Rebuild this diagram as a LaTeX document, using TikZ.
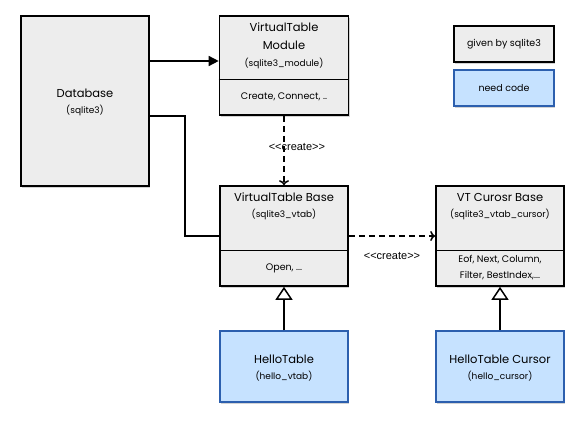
\documentclass[tikz,border=0pt]{standalone}
\usepackage{fontspec}
\setmainfont{Poppins}
\newfontfamily\labelfont{Liberation Sans}
\usetikzlibrary{shadows,arrows.meta}
\definecolor{boxgray}{HTML}{EDEDED}
\definecolor{needfill}{HTML}{C6E2FF}
\definecolor{needline}{HTML}{2C5FAE}
\tikzset{
	boxshadow/.style={drop shadow={shadow xshift=1pt,shadow yshift=-2.5pt,opacity=0.35}},
	givenbox/.style={draw=black,line width=1.6pt,fill=boxgray,boxshadow,inner sep=0pt},
	needbox/.style={draw=needline,line width=1.3pt,fill=needfill,boxshadow,inner sep=0pt},
	titletext/.style={font=\fontsize{11.5}{13}\selectfont,inner sep=0pt},
	subtext/.style={font=\fontsize{9}{10}\selectfont,inner sep=0pt},
	membertext/.style={font=\fontsize{9.5}{11}\selectfont,inner sep=0pt},
	createlabel/.style={font=\labelfont\fontsize{11}{12}\selectfont,inner sep=0pt},
	createline/.style={line width=1.5pt,dash pattern=on 6pt off 4pt,-{To[length=5pt,width=10pt]}},
	inherit/.style={line width=1.5pt,-{Triangle[open,length=13pt,width=17pt,fill=white,line width=1.5pt]}},
}
\begin{document}
\begin{tikzpicture}[x=1pt,y=-1pt]
				\useasboundingbox (0,0) rectangle (584,427);
				\node[givenbox,minimum width=128pt,minimum height=170pt] (db) at (85,101) {};
				\node[givenbox,minimum width=129pt,minimum height=99pt] (mod) at (284,65.5) {};
				\node[givenbox,minimum width=128pt,minimum height=100pt] (base) at (284,236) {};
				\node[givenbox,minimum width=128pt,minimum height=100pt] (cur) at (500,236) {};
				\node[needbox,minimum width=128pt,minimum height=71pt] (hello) at (284,366.5) {};
				\node[needbox,minimum width=128pt,minimum height=71pt] (hellocur) at (500,366.5) {};
				\node[givenbox,line width=1.3pt,minimum width=100pt,minimum height=36pt] (given) at (504,44) {};
				\node[needbox,minimum width=100pt,minimum height=36pt] (need) at (504,88) {};
				\draw[line width=0.8pt] (mod.west|-0,79) -- (mod.east|-0,79);
				\draw[line width=0.8pt] (base.west|-0,250) -- (base.east|-0,250);
				\draw[line width=0.8pt] (cur.west|-0,250) -- (cur.east|-0,250);
				\coordinate (modin) at ([yshift=4.5pt]mod.west);
				\coordinate (dbout) at ([yshift=-15pt]db.east);
				\draw[line width=1.5pt,-{Triangle[length=10pt,width=10pt]}] (db.east|-modin) -- (modin);
				\draw[line width=1.5pt] (dbout) -- ++(35,0) |- (base.west);
				\draw[createline] (mod.south) -- (base.north) node[createlabel,pos=0.45,anchor=west,xshift=-16pt] (createa) {<{}<create>{}>};
				\draw[createline] (base.east) -- (cur.west) node[createlabel,midway,below=16pt] (createb) {<{}<create>{}>};
				\draw[inherit] (hello.north) -- (base.south);
				\draw[inherit] (hellocur.north) -- (cur.south);
				\node[titletext] (dbname) at (85,93) {Database};
				\node[subtext] (dbsub) at (85,110) {(sqlite3)};
				\node[titletext] (modname) at (284,27) {VirtualTable};
				\node[titletext] (modname2) at (284,45) {Module};
				\node[subtext] (modsub) at (284,63) {(sqlite3\_module)};
				\node[membertext] (modops) at (284,97) {Create, Connect, ..};
				\node[titletext] (basename) at (284,197) {VirtualTable Base};
				\node[subtext] (basesub) at (284,214) {(sqlite3\_vtab)};
				\node[membertext] (baseops) at (284,268) {Open, ...};
				\node[titletext] (curname) at (500,197) {VT Curosr Base};
				\node[subtext] (cursub) at (500,214) {(sqlite3\_vtab\_cursor)};
				\node[membertext] (curops) at (500,260) {Eof, Next, Column,};
				\node[membertext] (curops2) at (500,276) {Filter, BestIndex,...};
				\node[titletext] (helloname) at (284,359) {HelloTable};
				\node[subtext] (hellosub) at (284,376) {(hello\_vtab)};
				\node[titletext] (hellocurname) at (500,359) {HelloTable Cursor};
				\node[subtext] (hellocursub) at (500,376) {(hello\_cursor)};
				\node[membertext] (giventext) at (given) {given by sqlite3};
				\node[membertext] (needtext) at (need) {need code};
			\end{tikzpicture}
\end{document}
